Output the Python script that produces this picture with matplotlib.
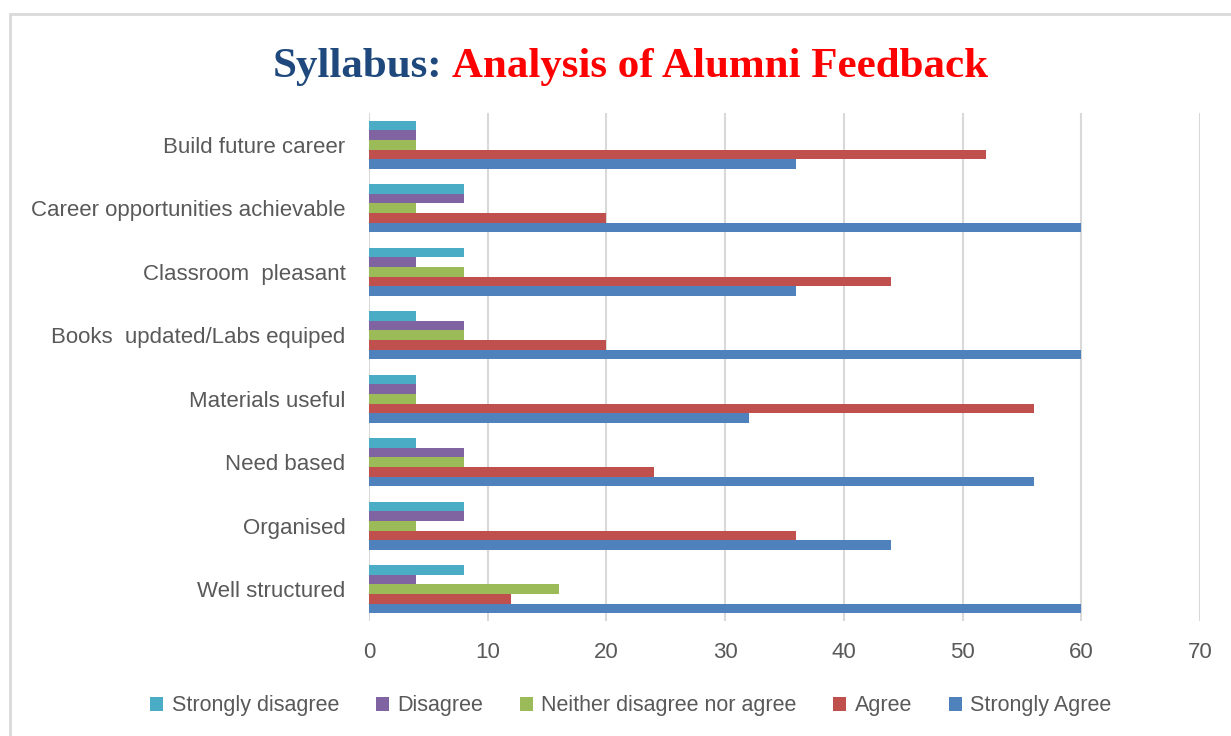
import numpy as np
import matplotlib.pyplot as plt
from matplotlib.patches import Rectangle

# data (bottom to top, as drawn on the y axis)
categories = ["Well structured", "Organised", "Need based", "Materials useful",
              "Books  updated/Labs equiped", "Classroom  pleasant",
              "Career opportunities achievable", "Build future career"]
strongly_disagree = [8, 8, 4, 4, 4, 8, 8, 4]
disagree = [4, 8, 8, 4, 8, 4, 8, 4]
neither = [16, 4, 8, 4, 8, 8, 4, 4]
agree = [12, 36, 24, 56, 20, 44, 20, 52]
strongly_agree = [60, 44, 56, 32, 60, 36, 60, 36]

series = [
    ("Strongly disagree", strongly_disagree, "#4BACC6", 0.30),
    ("Disagree", disagree, "#8064A2", 0.15),
    ("Neither disagree nor agree", neither, "#9BBB59", 0.0),
    ("Agree", agree, "#C0504D", -0.15),
    ("Strongly Agree", strongly_agree, "#4F81BD", -0.30),
]

plt.rcParams['font.family'] = ['Liberation Sans', 'DejaVu Sans']

fig = plt.figure(figsize=(12.31, 7.36), dpi=100)
ax = fig.add_axes([369 / 1231, 1 - 621 / 736, 831 / 1231, 508 / 736])

y = np.arange(len(categories))
for name, vals, color, off in series:
    ax.barh(y + off, vals, height=0.15, color=color, label=name, zorder=3)

ax.set_xlim(0, 70)
ax.set_ylim(-0.5, len(categories) - 0.5)
ax.set_xticks(range(0, 71, 10))
ax.set_yticks(y)
ax.set_yticklabels(categories)
ax.grid(axis='x', color='#D9D9D9', linewidth=1.5, zorder=0)
for s in ax.spines.values():
    s.set_visible(False)
ax.tick_params(axis='both', length=0, labelsize=16, labelcolor='#595959')
ax.tick_params(axis='y', pad=17)
ax.tick_params(axis='x', pad=15)

# title in two colours
fig.text(442 / 1231, 1 - 67 / 736, "Syllabus:", ha='right', va='center',
         fontsize=31, fontweight='bold', family='Liberation Serif', color='#1F497D')
fig.text(452 / 1231, 1 - 67 / 736, "Analysis of Alumni Feedback", ha='left', va='center',
         fontsize=31, fontweight='bold', family='Liberation Serif', color='#FF0000')

fig.legend(loc='center', bbox_to_anchor=(631 / 1231, 1 - 706 / 736), ncol=5,
           frameon=False, fontsize=15.5, labelcolor='#595959',
           handlelength=0.6, handleheight=0.6, handletextpad=0.4, columnspacing=1.7)

# light frame round the chart
fig.patches.append(Rectangle((10 / 1231, -0.05), 1.1, 1 - 14 / 736 + 0.05,
                             transform=fig.transFigure, fill=False,
                             edgecolor='#D9D9D9', linewidth=2))

fig.savefig("out.png", dpi=100)
